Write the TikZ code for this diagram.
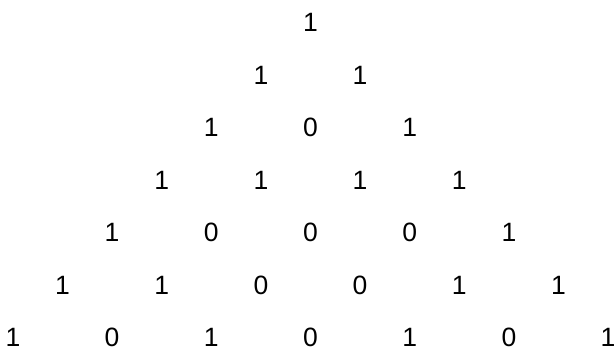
\documentclass[tikz,border=0pt]{standalone}
\usepackage{fontspec}
\setmainfont{Liberation Sans}

\begin{document}
\begin{tikzpicture}[x=1pt,y=1pt]
            \tikzset{entry/.style={inner sep=0pt, font=\fontsize{26.5}{32}\selectfont}}
            \useasboundingbox (0,0) rectangle (615,-352);
            % Rows of the triangle (mod 2)
            \foreach \r/\vals in {0/{1}, 1/{1,1}, 2/{1,0,1}, 3/{1,1,1,1},
                                  4/{1,0,0,0,1}, 5/{1,1,0,0,1,1}, 6/{1,0,1,0,1,0,1}} {
                \foreach \v [count=\k from 0] in \vals {
                    \node[entry] (n\r-\k) at ({310.5+49.6*(2*\k-\r)}, {-22.5-52.5*\r}) {\v};
                }
            }
\end{tikzpicture}
\end{document}
